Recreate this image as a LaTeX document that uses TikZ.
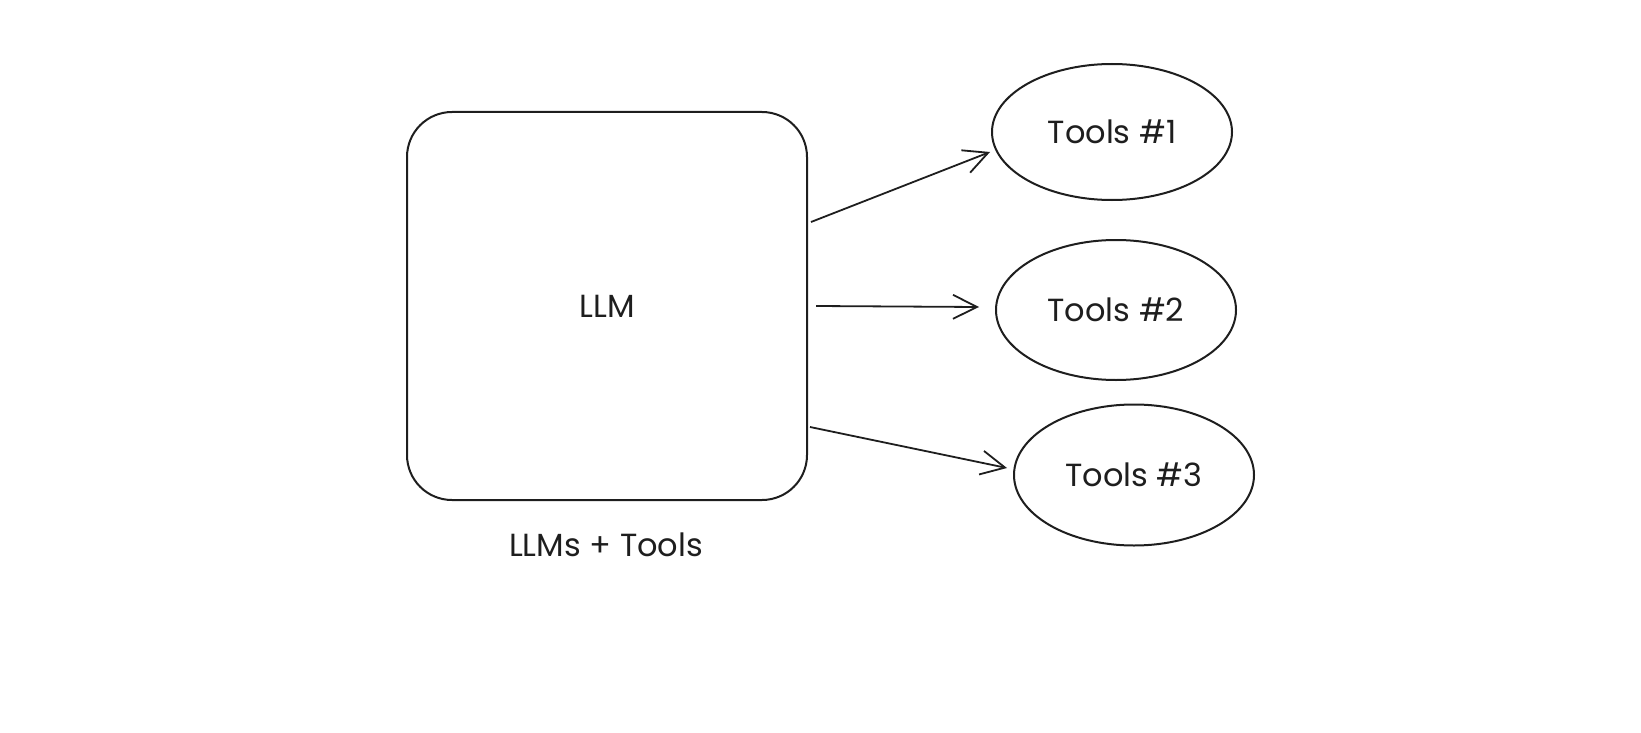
\documentclass[tikz,border=0pt]{standalone}
\usepackage{fontspec}
\setmainfont{Poppins}
\usetikzlibrary{shapes.geometric,arrows.meta,calc}
\definecolor{ink}{HTML}{1E1E1E}
\begin{document}
\begin{tikzpicture}[x=1pt,y=-1pt,
  sk/.style={draw=ink,line width=2pt},
  lbl/.style={text=ink,font=\fontsize{32}{38}\selectfont},
  tool/.style={sk,ellipse,minimum width=240pt,inner sep=0pt,font=\fontsize{32}{38}\selectfont,text=ink},
  conn/.style={draw=ink,line width=1.8pt,-{Straight Barb[length=24pt,width=24pt,line width=1.8pt]}}]
\useasboundingbox (0,0) rectangle (1641,733);
\node[sk,rounded corners=45pt,minimum width=400pt,minimum height=388pt,lbl] (llm) at (607,306) {LLM};
\node[lbl] (cap) at (606,545) {LLMs + Tools};
\node[tool,minimum height=136pt] (t1) at (1112,132) {Tools \#1};
\node[tool,minimum height=140pt] (t2) at (1116,310) {Tools \#2};
\node[tool,minimum height=141pt] (t3) at (1134,475) {Tools \#3};
\coordinate (a1) at ($(llm.north east)+(3,111)$);
\coordinate (a2) at ($(llm.north east)+(8,195)$);
\coordinate (a3) at ($(llm.north east)+(2,316)$);
\coordinate (b1) at ($(t1.west)+(-1,20)$);
\coordinate (b2) at ($(t2.west)+(-16,-3)$);
\coordinate (b3) at ($(t3.west)+(-6,-7)$);
\draw[conn] (a1) -- (b1);
\draw[conn] (a2) -- (b2);
\draw[conn] (a3) -- (b3);
\end{tikzpicture}
\end{document}
